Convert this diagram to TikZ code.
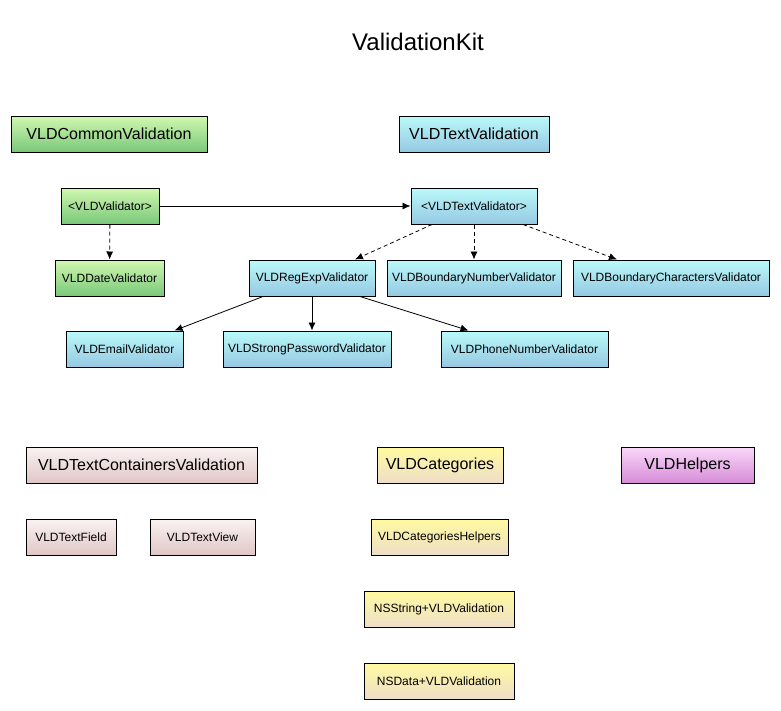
\documentclass[tikz,border=0pt]{standalone}
\usepackage{fontspec}
\setmainfont{Liberation Sans}
\usetikzlibrary{positioning, arrows.meta, calc}

\definecolor{grntop}{RGB}{208,248,176}
\definecolor{grnbot}{RGB}{122,200,122}
\definecolor{cyntop}{RGB}{186,250,250}
\definecolor{cynbot}{RGB}{150,200,226}
\definecolor{pnktop}{RGB}{250,242,242}
\definecolor{pnkbot}{RGB}{224,198,198}
\definecolor{ylwtop}{RGB}{255,250,160}
\definecolor{ylwbot}{RGB}{238,222,200}
\definecolor{magtop}{RGB}{250,216,250}
\definecolor{magbot}{RGB}{214,140,214}

\tikzset{
    box/.style={draw=black, line width=1pt, inner sep=0pt, minimum height=36pt},
    hdrbox/.style={box, font=\fontsize{16}{18}\selectfont},
    clsbox/.style={box, font=\fontsize{12}{14}\selectfont},
    green/.style={top color=grntop, bottom color=grnbot},
    cyan/.style={top color=cyntop, bottom color=cynbot},
    pink/.style={top color=pnktop, bottom color=pnkbot},
    yellow/.style={top color=ylwtop, bottom color=ylwbot},
    magenta/.style={top color=magtop, bottom color=magbot},
    impl/.style={line width=0.8pt, dash pattern=on 4pt off 3pt, -{Latex[length=8pt, width=7pt]}},
    sub/.style={line width=0.8pt, -{Latex[length=8pt, width=7pt]}}
}

\begin{document}
\begin{tikzpicture}[x=1pt, y=-1pt]
    \useasboundingbox (0,0) rectangle (781,710);
    % Title
    \node[font=\fontsize{24}{28}\selectfont] (title) at (418,42) {ValidationKit};

    % Common validation
    \node[hdrbox, green, minimum width=196pt] (common) at (109,134) {VLDCommonValidation};
    \node[clsbox, green, minimum width=98pt] (validator) at (110,206) {<VLDValidator>};
    \node[clsbox, green, minimum width=109pt] (date) at (109.5,278) {VLDDateValidator};

    % Text validation
    \node[hdrbox, cyan, minimum width=150pt] (textval) at (474,134) {VLDTextValidation};
    \node[clsbox, cyan, minimum width=126pt] (textvalidator) at (474,206) {<VLDTextValidator>};
    \node[clsbox, cyan, minimum width=126pt] (regexp) at (312,278) {VLDRegExpValidator};
    \node[clsbox, cyan, minimum width=174pt] (boundnum) at (474,278) {VLDBoundaryNumberValidator};
    \node[clsbox, cyan, minimum width=196pt] (boundchars) at (671,278) {VLDBoundaryCharactersValidator};
    \node[clsbox, cyan, minimum width=117pt] (email) at (124.5,349) {VLDEmailValidator};
    \node[clsbox, cyan, minimum width=168pt] (strong) at (307,349) {VLDStrongPasswordValidator};
    \node[clsbox, cyan, minimum width=167pt] (phone) at (524.5,349) {VLDPhoneNumberValidator};

    % Text containers
    \node[hdrbox, pink, minimum width=231pt] (containers) at (141.5,465) {VLDTextContainersValidation};
    \node[clsbox, pink, minimum width=90pt] (textfield) at (71,537) {VLDTextField};
    \node[clsbox, pink, minimum width=105pt] (textview) at (202.5,537) {VLDTextView};

    % Categories
    \node[hdrbox, yellow, minimum width=126pt] (categories) at (440,465) {VLDCategories};
    \node[clsbox, yellow, minimum width=137pt] (cathelpers) at (439.5,537) {VLDCategoriesHelpers};
    \node[clsbox, yellow, minimum width=150pt] (nsstring) at (439,609.5) {NSString+VLDValidation};
    \node[clsbox, yellow, minimum width=150pt] (nsdata) at (439,681) {NSData+VLDValidation};

    % Helpers
    \node[hdrbox, magenta, minimum width=133pt] (helpers) at (687.5,465) {VLDHelpers};

    % Connectors
    \draw[sub] (validator) -- (textvalidator);
    \draw[impl] (validator) -- (date);
    \draw[impl] ([xshift=-42pt]textvalidator.south) -- ([xshift=43pt]regexp.north);
    \draw[impl] (textvalidator) -- (boundnum);
    \draw[impl] ([xshift=49pt]textvalidator.south) -- ([xshift=-54pt]boundchars.north);
    \draw[sub] ([xshift=-49pt]regexp.south) -- ([xshift=50pt]email.north);
    \draw[sub] (regexp.south) -- (regexp.south |- strong.north);
    \draw[sub] ([xshift=48pt]regexp.south) -- ([xshift=-56pt]phone.north);
\end{tikzpicture}
\end{document}
